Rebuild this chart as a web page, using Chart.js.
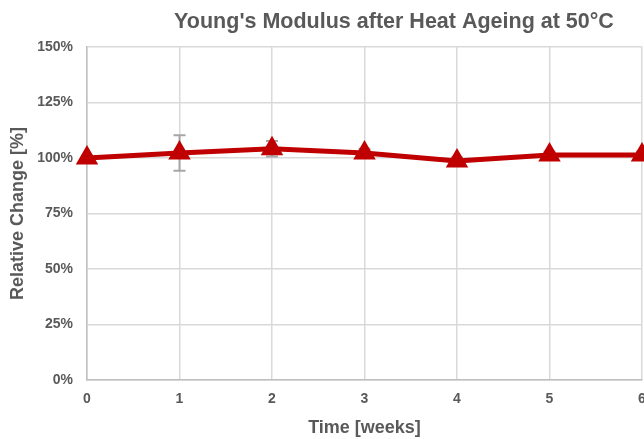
<!DOCTYPE html>
<html>
<head>
<meta charset="utf-8">
<script src="https://cdn.jsdelivr.net/npm/chart.js@4.4.1/dist/chart.umd.min.js"></script>
<style>
  html, body { margin: 0; padding: 0; background: #fff; overflow: hidden; }
  #wrap { width: 788px; height: 439px; }
</style>
</head>
<body>
<div id="wrap"><canvas id="chart"></canvas></div>
<script>
const weeks = ['0', '1', '2', '3', '4', '5', '6'];
const relChange = [100, 102.3, 104.2, 102.2, 98.7, 101.4, 101.4];
const errors = [1, 8, 3.5, 2, 1.5, 1.5, 1.5];
const yTicks = [0, 25, 50, 75, 100, 125, 150];
const chartTitle = "Young's Modulus after Heat Ageing at 50°C";

const grey = '#595959';
const font = 'Liberation Sans, Arial, sans-serif';

// error bars drawn behind the line, through the chart's own scales
const errorBars = {
    id: 'errorBars',
    beforeDatasetsDraw(chart) {
        const ctx = chart.ctx;
        const xs = chart.scales.x, ys = chart.scales.y;
        ctx.save();
        ctx.strokeStyle = '#a6a6a6';
        ctx.lineWidth = 2;
        relChange.forEach((v, i) => {
            const x = xs.getPixelForValue(i);
            const top = ys.getPixelForValue(v + errors[i]);
            const bot = ys.getPixelForValue(v - errors[i]);
            ctx.beginPath();
            ctx.moveTo(x, top); ctx.lineTo(x, bot);
            ctx.moveTo(x - 6, top); ctx.lineTo(x + 6, top);
            ctx.moveTo(x - 6, bot); ctx.lineTo(x + 6, bot);
            ctx.stroke();
        });
        ctx.restore();
    }
};

// title centred on the full (wider, clipped) chart like the original
const titlePlugin = {
    id: 'bigTitle',
    afterDraw(chart) {
        const ctx = chart.ctx;
        ctx.save();
        ctx.fillStyle = grey;
        ctx.font = 'bold 21.5px ' + font;
        ctx.textAlign = 'center';
        ctx.textBaseline = 'alphabetic';
        ctx.fillText(chartTitle, chart.width / 2, 28);
        ctx.restore();
    }
};

new Chart(document.getElementById('chart'), {
    type: 'line',
    data: {
        labels: weeks,
        datasets: [{
            data: relChange,
            borderColor: '#c00000',
            backgroundColor: '#c00000',
            borderWidth: 5,
            pointStyle: 'triangle',
            pointRadius: 10,
            pointBorderWidth: 3,
            tension: 0
        }]
    },
    options: {
        responsive: true,
        maintainAspectRatio: false,
        animation: false,
        layout: { padding: { top: 47, right: 146 } },
        plugins: {
            legend: { display: false },
            tooltip: { enabled: false },
            title: { display: false }
        },
        scales: {
            x: {
                type: 'category',
                offset: false,
                grid: { color: '#d9d9d9', lineWidth: 1.5, drawTicks: false },
                border: { color: '#bfbfbf', width: 1.5 },
                ticks: { color: grey, font: { family: font, size: 14, weight: 'bold' }, padding: 11, maxRotation: 0 },
                title: {
                    display: true, text: 'Time [weeks]', color: grey,
                    font: { family: font, size: 18, weight: 'bold' }, padding: { top: 0, bottom: 0 }
                },
                afterFit(s) { s.height = 59; }
            },
            y: {
                min: 0, max: 150,
                afterBuildTicks(s) { s.ticks = yTicks.map(v => ({ value: v })); },
                grid: { color: '#d9d9d9', lineWidth: 1.5, drawTicks: false },
                border: { color: '#bfbfbf', width: 1.5 },
                ticks: {
                    color: grey, font: { family: font, size: 14, weight: 'bold' }, padding: 14,
                    callback: v => v + '%'
                },
                title: {
                    display: true, text: 'Relative Change [%]', color: grey,
                    font: { family: font, size: 18, weight: 'bold' }, padding: { top: 7, bottom: 0 }
                },
                afterFit(s) { s.width = 87; }
            }
        }
    },
    plugins: [errorBars, titlePlugin]
});
</script>
</body>
</html>
